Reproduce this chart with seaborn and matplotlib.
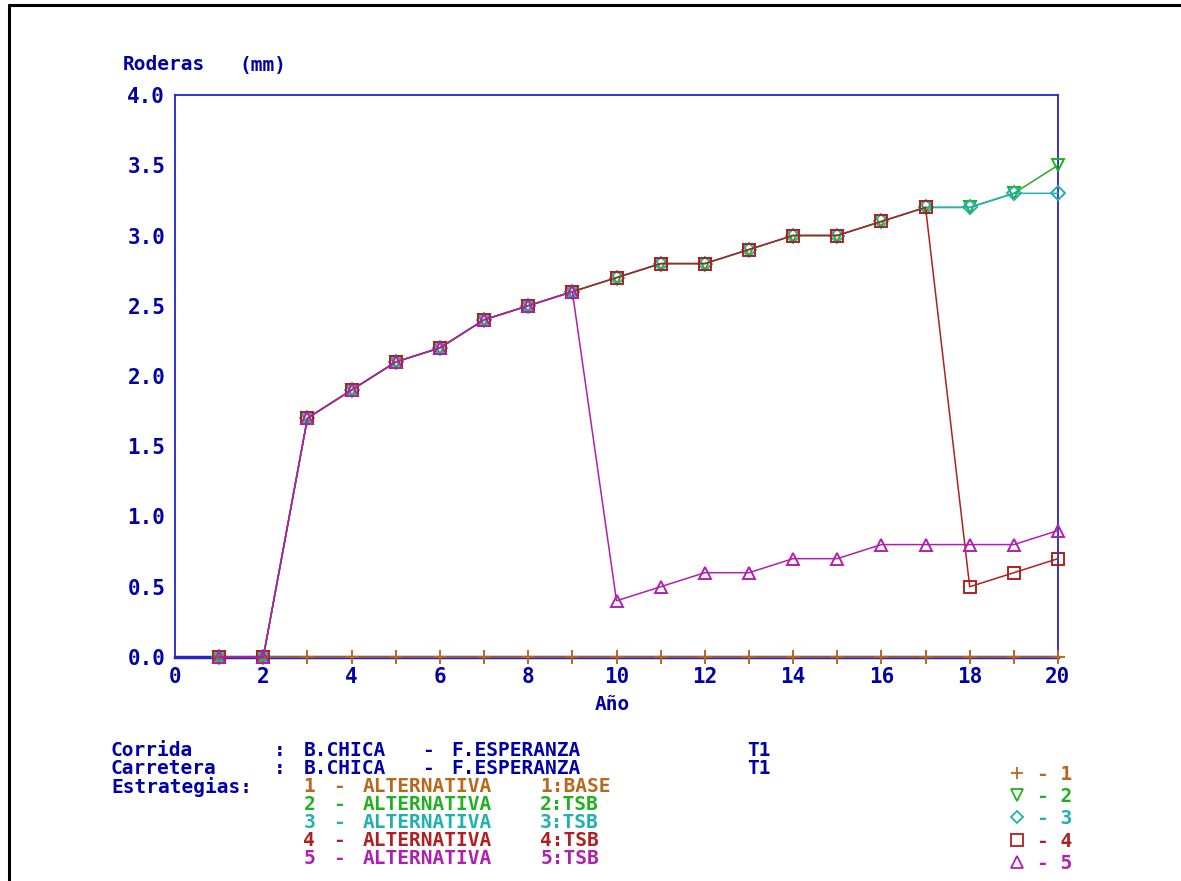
import matplotlib
matplotlib.use("Agg")
import matplotlib.pyplot as plt
from matplotlib.lines import Line2D
import seaborn as sns
import pandas as pd

years = list(range(1, 21))
alt1 = [0.0] * 20
alt2 = [0.0, 0.0, 1.7, 1.9, 2.1, 2.2, 2.4, 2.5, 2.6, 2.7, 2.8, 2.8, 2.9, 3.0, 3.0, 3.1, 3.2, 3.2, 3.3, 3.5]
alt3 = [0.0, 0.0, 1.7, 1.9, 2.1, 2.2, 2.4, 2.5, 2.6, 2.7, 2.8, 2.8, 2.9, 3.0, 3.0, 3.1, 3.2, 3.2, 3.3, 3.3]
alt4 = [0.0, 0.0, 1.7, 1.9, 2.1, 2.2, 2.4, 2.5, 2.6, 2.7, 2.8, 2.8, 2.9, 3.0, 3.0, 3.1, 3.2, 0.5, 0.6, 0.7]
alt5 = [0.0, 0.0, 1.7, 1.9, 2.1, 2.2, 2.4, 2.5, 2.6, 0.4, 0.5, 0.6, 0.6, 0.7, 0.7, 0.8, 0.8, 0.8, 0.8, 0.9]

series_ids = ["1", "2", "3", "4", "5"]
series_names = ["ALTERNATIVA 1:BASE", "ALTERNATIVA 2:TSB", "ALTERNATIVA 3:TSB",
                "ALTERNATIVA 4:TSB", "ALTERNATIVA 5:TSB"]
yticks = [0.0, 0.5, 1.0, 1.5, 2.0, 2.5, 3.0, 3.5, 4.0]
xticks = [0, 2, 4, 6, 8, 10, 12, 14, 16, 18, 20]
corrida = "B.CHICA - F.ESPERANZA"
carretera = "B.CHICA - F.ESPERANZA"
tramo = "T1"

colors = ["#b8681c", "#20b020", "#20b0b0", "#b02020", "#b020b0"]
markers = ["+", "v", "D", "s", "^"]
msizes = [10, 9, 7, 9, 9]

TXT = "#0000a8"
AX = "#2424c8"
W, H = 1181, 881

sns.set_theme(style="white")
plt.rcParams["font.family"] = ["DejaVu Sans Mono", "DejaVu Sans"]
plt.rcParams["font.weight"] = "bold"

fig = plt.figure(figsize=(W / 100, H / 100), dpi=100)
ax = fig.add_axes([175 / W, 1 - 657 / H, (1058 - 175) / W, (657 - 95) / H])

allvals = [alt1, alt2, alt3, alt4, alt5]
for sid, vals, c, m, ms in zip(series_ids, allvals, colors, markers, msizes):
    df = pd.DataFrame({"Año": years, "val": vals})
    sns.lineplot(data=df, x="Año", y="val", color=c, marker=m, markersize=ms,
                 linewidth=1.1, ax=ax, clip_on=False, legend=False, zorder=3,
                 markerfacecolor="none", markeredgecolor=c, markeredgewidth=1.4)

ax.set_xlim(0, 20)
ax.set_ylim(0, 4)
ax.set_xticks(xticks)
ax.set_yticks(yticks)
ax.set_xticklabels([str(v) for v in xticks])
ax.set_yticklabels([f"{v:.1f}" for v in yticks])
for s in ax.spines.values():
    s.set_color(AX)
    s.set_linewidth(1.3)
ax.spines["bottom"].set_linewidth(2.5)
ax.tick_params(axis="both", colors=AX, labelcolor=TXT, labelsize=15,
               length=5, width=1.2, direction="out", pad=2)
for lab in ax.get_xticklabels() + ax.get_yticklabels():
    lab.set_fontweight("bold")
ax.set_xlabel("")
ax.set_ylabel("")

PITCH = 14.8
FS = 14


def line_text(x0, y, s, c=TXT, pitch=PITCH, fs=FS):
    # place each word of a monospaced line at its column
    idx = 0
    for word in s.split(" "):
        if word:
            fig.text((x0 + idx * pitch) / W, 1 - y / H, word, color=c, fontsize=fs,
                     fontweight="bold", va="center", ha="left")
        idx += len(word) + 1


line_text(123, 65, "Roderas (mm)", pitch=14.5)
fig.text(612 / W, 1 - 705 / H, "Año", color=TXT, fontsize=FS,
         fontweight="bold", va="center", ha="center")

line_text(111, 751, "Corrida    : " + corrida)
line_text(111, 769, "Carretera  : " + carretera)
line_text(111 + 43 * PITCH, 751, tramo)
line_text(111 + 43 * PITCH, 769, tramo)
line_text(111, 787, "Estrategias:")
for i, (sid, nm, c) in enumerate(zip(series_ids, series_names, colors)):
    line_text(111 + 13 * PITCH, 787 + 18 * i, f"{sid} - {nm}", c)

handles = [Line2D([], [], color=c, marker=m, markersize=ms - 1, linestyle="none",
                  markerfacecolor="none", markeredgewidth=1.3)
           for c, m, ms in zip(colors, markers, msizes)]
leg = fig.legend(handles, [f"- {s}" for s in series_ids], loc="upper left",
                 bbox_to_anchor=(994 / W, 1 - 751 / H), frameon=False,
                 handlelength=1.0, handletextpad=0.5, labelspacing=0.17,
                 borderpad=0.2,
                 prop={"family": "DejaVu Sans Mono", "weight": "bold", "size": FS})
for t, c in zip(leg.get_texts(), colors):
    t.set_color(c)

fig.add_artist(Line2D([9 / W, 9 / W], [0, 1 - 5 / H], color="black",
                      linewidth=2.2, transform=fig.transFigure))
fig.add_artist(Line2D([9 / W, 1], [1 - 5 / H, 1 - 5 / H], color="black",
                      linewidth=2.2, transform=fig.transFigure))

fig.savefig("out.png", dpi=100)
